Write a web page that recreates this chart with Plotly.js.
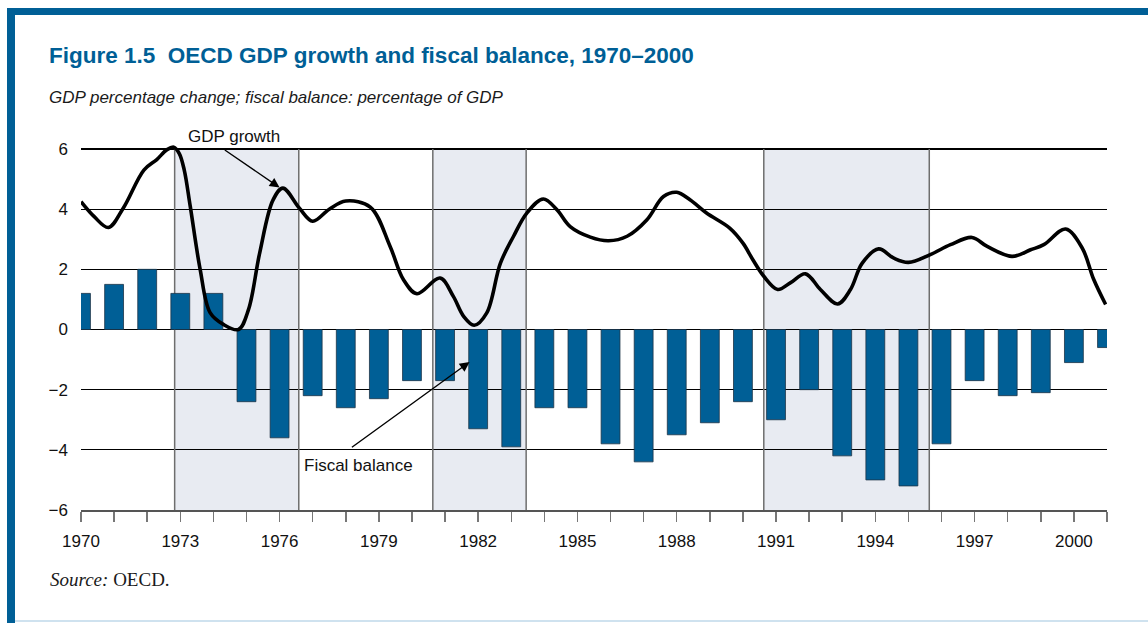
<!DOCTYPE html>
<html>
<head>
<meta charset="utf-8">
<script src="https://cdn.plot.ly/plotly-3.0.1.min.js"></script>
<style>
  html, body { margin: 0; padding: 0; background: #ffffff; }
  #chart { width: 1148px; height: 623px; }
</style>
</head>
<body>
<div id="chart"></div>
<script>
// ---- Data ----
const years = [1970, 1971, 1972, 1973, 1974, 1975, 1976, 1977, 1978, 1979,
               1980, 1981, 1982, 1983, 1984, 1985, 1986, 1987, 1988, 1989,
               1990, 1991, 1992, 1993, 1994, 1995, 1996, 1997, 1998, 1999,
               2000, 2001];
const fiscalBalance = [1.2, 1.5, 2.0, 1.2, 1.2, -2.4, -3.6, -2.2, -2.6, -2.3,
                       -1.7, -1.7, -3.3, -3.9, -2.6, -2.6, -3.8, -4.4, -3.5, -3.1,
                       -2.4, -3.0, -2.0, -4.2, -5.0, -5.2, -3.8, -1.7, -2.2, -2.1,
                       -1.1, -0.6];

const gdpTime = [1970.0, 1970.4, 1970.83, 1971.28, 1971.9, 1972.29, 1972.6, 1972.8, 1972.97, 1973.12,
                 1973.3, 1973.6, 1973.9, 1974.3, 1974.76, 1975.06, 1975.4, 1975.8, 1976.1, 1976.6,
                 1977.0, 1977.5, 1978.0, 1978.74, 1979.34, 1979.74, 1980.15, 1980.85, 1981.25, 1981.56,
                 1981.88, 1982.26, 1982.67, 1983.07, 1983.47, 1983.97, 1984.38, 1984.78, 1985.39, 1985.94,
                 1986.5, 1987.1, 1987.6, 1988.0, 1988.4, 1988.9, 1989.6, 1990.0, 1990.3, 1990.63,
                 1991.05, 1991.43, 1991.89, 1992.34, 1992.86, 1993.25, 1993.6, 1994.1, 1994.56, 1995.0,
                 1995.66, 1996.27, 1996.92, 1997.38, 1998.13, 1998.69, 1999.09, 1999.75, 2000.25, 2000.6,
                 2000.96];
const gdpGrowth = [4.25, 3.75, 3.39, 4.04, 5.3, 5.65, 5.98, 6.06, 5.85, 5.3,
                   4.1, 2.0, 0.56, 0.17, 0.0, 0.66, 2.55, 4.3, 4.7, 4.03,
                   3.6, 4.0, 4.27, 4.07, 2.76, 1.66, 1.19, 1.71, 1.1, 0.44,
                   0.14, 0.55, 2.2, 3.1, 3.87, 4.34, 3.98, 3.42, 3.07, 2.95,
                   3.1, 3.65, 4.42, 4.56, 4.31, 3.87, 3.37, 2.87, 2.32, 1.77,
                   1.33, 1.55, 1.85, 1.33, 0.85, 1.33, 2.2, 2.68, 2.37, 2.23,
                   2.49, 2.82, 3.06, 2.76, 2.43, 2.65, 2.82, 3.34, 2.71, 1.66,
                   0.83];

// Recession (shaded) periods
const recessionStart = [1972.83, 1980.63, 1990.63];
const recessionEnd   = [1976.58, 1983.45, 1995.63];

const xTickVals = [1970, 1973, 1976, 1979, 1982, 1985, 1988, 1991, 1994, 1997, 2000];
const xTickText = ['1970', '1973', '1976', '1979', '1982', '1985', '1988', '1991', '1994', '1997', '2000'];
const yTickVals = [-6, -4, -2, 0, 2, 4, 6];

const titleText = 'Figure 1.5  OECD GDP growth and fiscal balance, 1970–2000';
const subtitleText = 'GDP percentage change; fiscal balance: percentage of GDP';
const sourceText = '<i>Source:</i> OECD.';
const gdpLabel = 'GDP growth';
const fiscalLabel = 'Fiscal balance';

// ---- Layout geometry ----
const W = 1148, H = 623;
const M = { l: 81, r: 41, t: 141, b: 113 };
const PW = W - M.l - M.r, PH = H - M.t - M.b;
const unitPx = (510 - 149) / 12;             // pixels per y unit (6 at y=149, -6 at y=510)
const yTop = 6 + (149 - M.t) / unitPx;      // small headroom above the 6 gridline for the line peak
const px = x => (x - M.l) / PW;          // pixel x -> paper x
const py = y => (H - M.b - y) / PH;      // pixel y -> paper y

const BLUE = '#005f96';
const SANS = 'Liberation Sans, Arial, Helvetica, sans-serif';

const shapes = [];
// Frame
shapes.push({type: 'rect', xref: 'paper', yref: 'paper', x0: px(7), x1: px(1148), y0: py(15), y1: py(8),
             fillcolor: BLUE, line: {width: 0}, layer: 'above'});
shapes.push({type: 'rect', xref: 'paper', yref: 'paper', x0: px(7), x1: px(15), y0: py(623), y1: py(8),
             fillcolor: BLUE, line: {width: 0}, layer: 'above'});
shapes.push({type: 'rect', xref: 'paper', yref: 'paper', x0: px(15), x1: px(1148), y0: py(622), y1: py(620),
             fillcolor: '#cfe2ef', line: {width: 0}, layer: 'above'});
// Recession shading
recessionStart.forEach((s, i) => {
  shapes.push({type: 'rect', xref: 'x', yref: 'y', x0: s, x1: recessionEnd[i], y0: -6, y1: 6,
               fillcolor: '#e8ebf2', line: {width: 0}, layer: 'below'});
  [s, recessionEnd[i]].forEach(v => shapes.push({type: 'line', xref: 'x', yref: 'y', x0: v, x1: v, y0: -6, y1: 6,
               line: {color: '#6e6e6e', width: 1.5}, layer: 'between'}));
});

const annotations = [
  {xref: 'paper', yref: 'paper', x: px(47), y: py(56), xanchor: 'left', yanchor: 'middle', showarrow: false,
   text: '<b>' + titleText + '</b>', font: {family: SANS, size: 22.5, color: BLUE}},
  {xref: 'paper', yref: 'paper', x: px(47), y: py(98), xanchor: 'left', yanchor: 'middle', showarrow: false,
   text: '<i>' + subtitleText + '</i>', font: {family: SANS, size: 17, color: '#1a1a1a'}},
  {xref: 'paper', yref: 'paper', x: px(48), y: py(579), xanchor: 'left', yanchor: 'middle', showarrow: false,
   text: sourceText, font: {family: 'Liberation Serif, Times New Roman, serif', size: 19, color: '#1a1a1a'}},
  // GDP growth label + arrow
  {xref: 'paper', yref: 'paper', x: px(234), y: py(136), xanchor: 'center', yanchor: 'middle', showarrow: false,
   text: gdpLabel, font: {family: SANS, size: 17, color: '#111'}},
  {xref: 'x', yref: 'y', axref: 'x', ayref: 'y', x: 1976.0, y: 4.72, ax: 1974.3, ay: 6.0, text: '',
   showarrow: true, arrowhead: 2, arrowsize: 1.4, arrowwidth: 1.4, arrowcolor: '#000', standoff: 0},
  // Fiscal balance label + arrow
  {xref: 'paper', yref: 'paper', x: px(358), y: py(465), xanchor: 'center', yanchor: 'middle', showarrow: false,
   text: fiscalLabel, font: {family: SANS, size: 17, color: '#111'}},
  {xref: 'x', yref: 'y', axref: 'x', ayref: 'y', x: 1981.74, y: -1.08, ax: 1978.14, ay: -3.95, text: '',
   showarrow: true, arrowhead: 2, arrowsize: 1.4, arrowwidth: 1.4, arrowcolor: '#000', standoff: 0}
];

const traces = [
  {type: 'bar', x: years, y: fiscalBalance, width: 0.57, name: 'Fiscal balance',
   marker: {color: BLUE, line: {color: '#1d3346', width: 0.8}}, hoverinfo: 'x+y'},
  {type: 'scatter', mode: 'lines', x: gdpTime, y: gdpGrowth, name: 'GDP growth',
   line: {color: '#000', width: 3.6, shape: 'spline', smoothing: 1.0}, cliponaxis: false}
];

const layout = {
  width: W, height: H,
  margin: M,
  paper_bgcolor: '#ffffff',
  plot_bgcolor: 'rgba(0,0,0,0)',
  showlegend: false,
  font: {family: SANS, size: 17, color: '#111'},
  xaxis: {
    range: [1970, 2001], tickvals: xTickVals, ticktext: xTickText,
    ticks: 'outside', ticklen: 10, tickwidth: 1.5, tickcolor: '#777',
    minor: {tick0: 1970, dtick: 1, ticks: 'outside', ticklen: 10, tickwidth: 1.5, tickcolor: '#777', showgrid: false},
    showgrid: false, zeroline: false, showline: true, linecolor: '#555', linewidth: 1.5,
    ticklabelstandoff: 5,
    tickfont: {family: SANS, size: 17, color: '#111'}, fixedrange: true
  },
  yaxis: {
    range: [-6, yTop], tickvals: yTickVals, ticks: '',
    showgrid: true, gridcolor: '#000', gridwidth: 1.3,
    zeroline: true, zerolinecolor: '#000', zerolinewidth: 1.3,
    showline: false, ticklabelstandoff: 12,
    tickfont: {family: SANS, size: 17, color: '#111'}, fixedrange: true
  },
  shapes: shapes,
  annotations: annotations
};

Plotly.newPlot('chart', traces, layout, {displayModeBar: false, staticPlot: true});
</script>
</body>
</html>
